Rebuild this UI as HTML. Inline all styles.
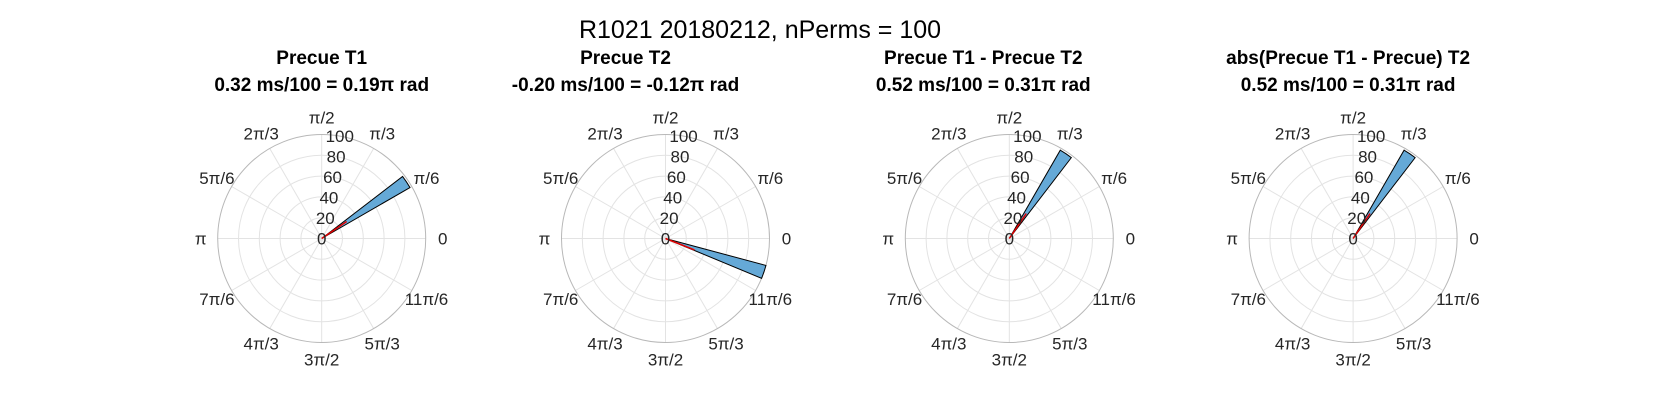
<!DOCTYPE html>
<html><head><meta charset="utf-8"><style>
html,body{margin:0;padding:0;background:#fff;}
svg{display:block;font-family:"Liberation Sans",Arial,sans-serif;}
</style></head><body>
<svg id="fig" width="1667" height="417" viewBox="0 0 1667 417">
<rect width="1667" height="417" fill="#fff"/>
<text x="760" y="38" font-size="25" text-anchor="middle" fill="#000">R1021 20180212, nPerms = 100</text>
</svg>
<script>
const titles1 = ["Precue T1","Precue T2","Precue T1 - Precue T2","abs(Precue T1 - Precue) T2"];
const titles2 = ["0.32 ms/100 = 0.19\u03c0 rad","-0.20 ms/100 = -0.12\u03c0 rad","0.52 ms/100 = 0.31\u03c0 rad","0.52 ms/100 = 0.31\u03c0 rad"];
const binStartsDeg = [30, -22.5, 52.5, 52.5];
const binWidthDeg = 7.5;
const binCounts = [98, 100, 98, 98];
const meanAngles = [0.19, -0.12, 0.31, 0.31]; // in units of pi
const meanLengths = [29, 30, 29, 29];
const rTicks = [0,20,40,60,80,100];
const thetaLabels = ["0","\u03c0/6","\u03c0/3","\u03c0/2","2\u03c0/3","5\u03c0/6","\u03c0","7\u03c0/6","4\u03c0/3","3\u03c0/2","5\u03c0/3","11\u03c0/6"];
const titleOffsets = [0, -40, -26, -5];

const NS="http://www.w3.org/2000/svg";
const svg=document.getElementById('fig');
const cx0=321.7, dx=343.8, cy=238.5, R=104, rMax=100;
function mk(tag,attrs,parent){const e=document.createElementNS(NS,tag);for(const k in attrs)e.setAttribute(k,attrs[k]);(parent||svg).appendChild(e);return e;}
function rs(v){return v/rMax*R;}
function px(cx,r,deg){return cx+r*Math.cos(deg*Math.PI/180);}
function py(r,deg){return cy-r*Math.sin(deg*Math.PI/180);}

for(let i=0;i<4;i++){
  const cx=cx0+i*dx;
  const g=mk('g',{});
  
  
  const tx=cx+titleOffsets[i];
  const t1=mk('text',{x:tx,y:64,'font-size':19,'font-weight':'bold','text-anchor':'middle'},g);
  t1.textContent=titles1[i];
  
  
  const t2=mk('text',{x:tx,y:91,'font-size':19,'font-weight':'bold','text-anchor':'middle'},g);
  t2.textContent=titles2[i];
  
  
  for(let k=0;k<12;k++){
    const a=k*30;
    const l=mk('line',{x1:cx,y1:cy,x2:px(cx,R,a),y2:py(R,a),stroke:'#e3e3e3','stroke-width':1},g);
    
    
  }
  for(let k=1;k<rTicks.length;k++){
    const c=mk('circle',{cx:cx,cy:cy,r:rs(rTicks[k]),fill:'none',stroke:k==rTicks.length-1?'#b8b8b8':'#e3e3e3','stroke-width':1},g);
    
    
  }
  const a0=binStartsDeg[i], a1=a0+binWidthDeg, rv=rs(binCounts[i]);
  const bar=mk('path',{d:`M${cx},${cy} L${px(cx,rv,a0)},${py(rv,a0)} A${rv},${rv} 0 0 0 ${px(cx,rv,a1)},${py(rv,a1)} Z`,fill:'#65a9d7',stroke:'#000','stroke-width':1},g);
  
  
  const ma=meanAngles[i]*180, ml=rs(meanLengths[i]);
  const ln=mk('line',{x1:cx,y1:cy,x2:px(cx,ml,ma),y2:py(ml,ma),stroke:'#e00000','stroke-width':1.5},g);
  
  
  rTicks.forEach(v=>{
    const r=rs(v);
    const t=mk('text',{x:px(cx,r,80),y:py(r,80)+6,'font-size':17,'text-anchor':'middle',fill:'#262626'},g);
    t.textContent=v;
    
    
  });
  thetaLabels.forEach((s,k)=>{
    const a=k*30, rr=R+17;
    const t=mk('text',{x:px(cx,rr,a),y:py(rr,a)+6,'font-size':17,'text-anchor':'middle',fill:'#262626'},g);
    t.textContent=s;
    
    
  });
}
</script>
</body></html>
